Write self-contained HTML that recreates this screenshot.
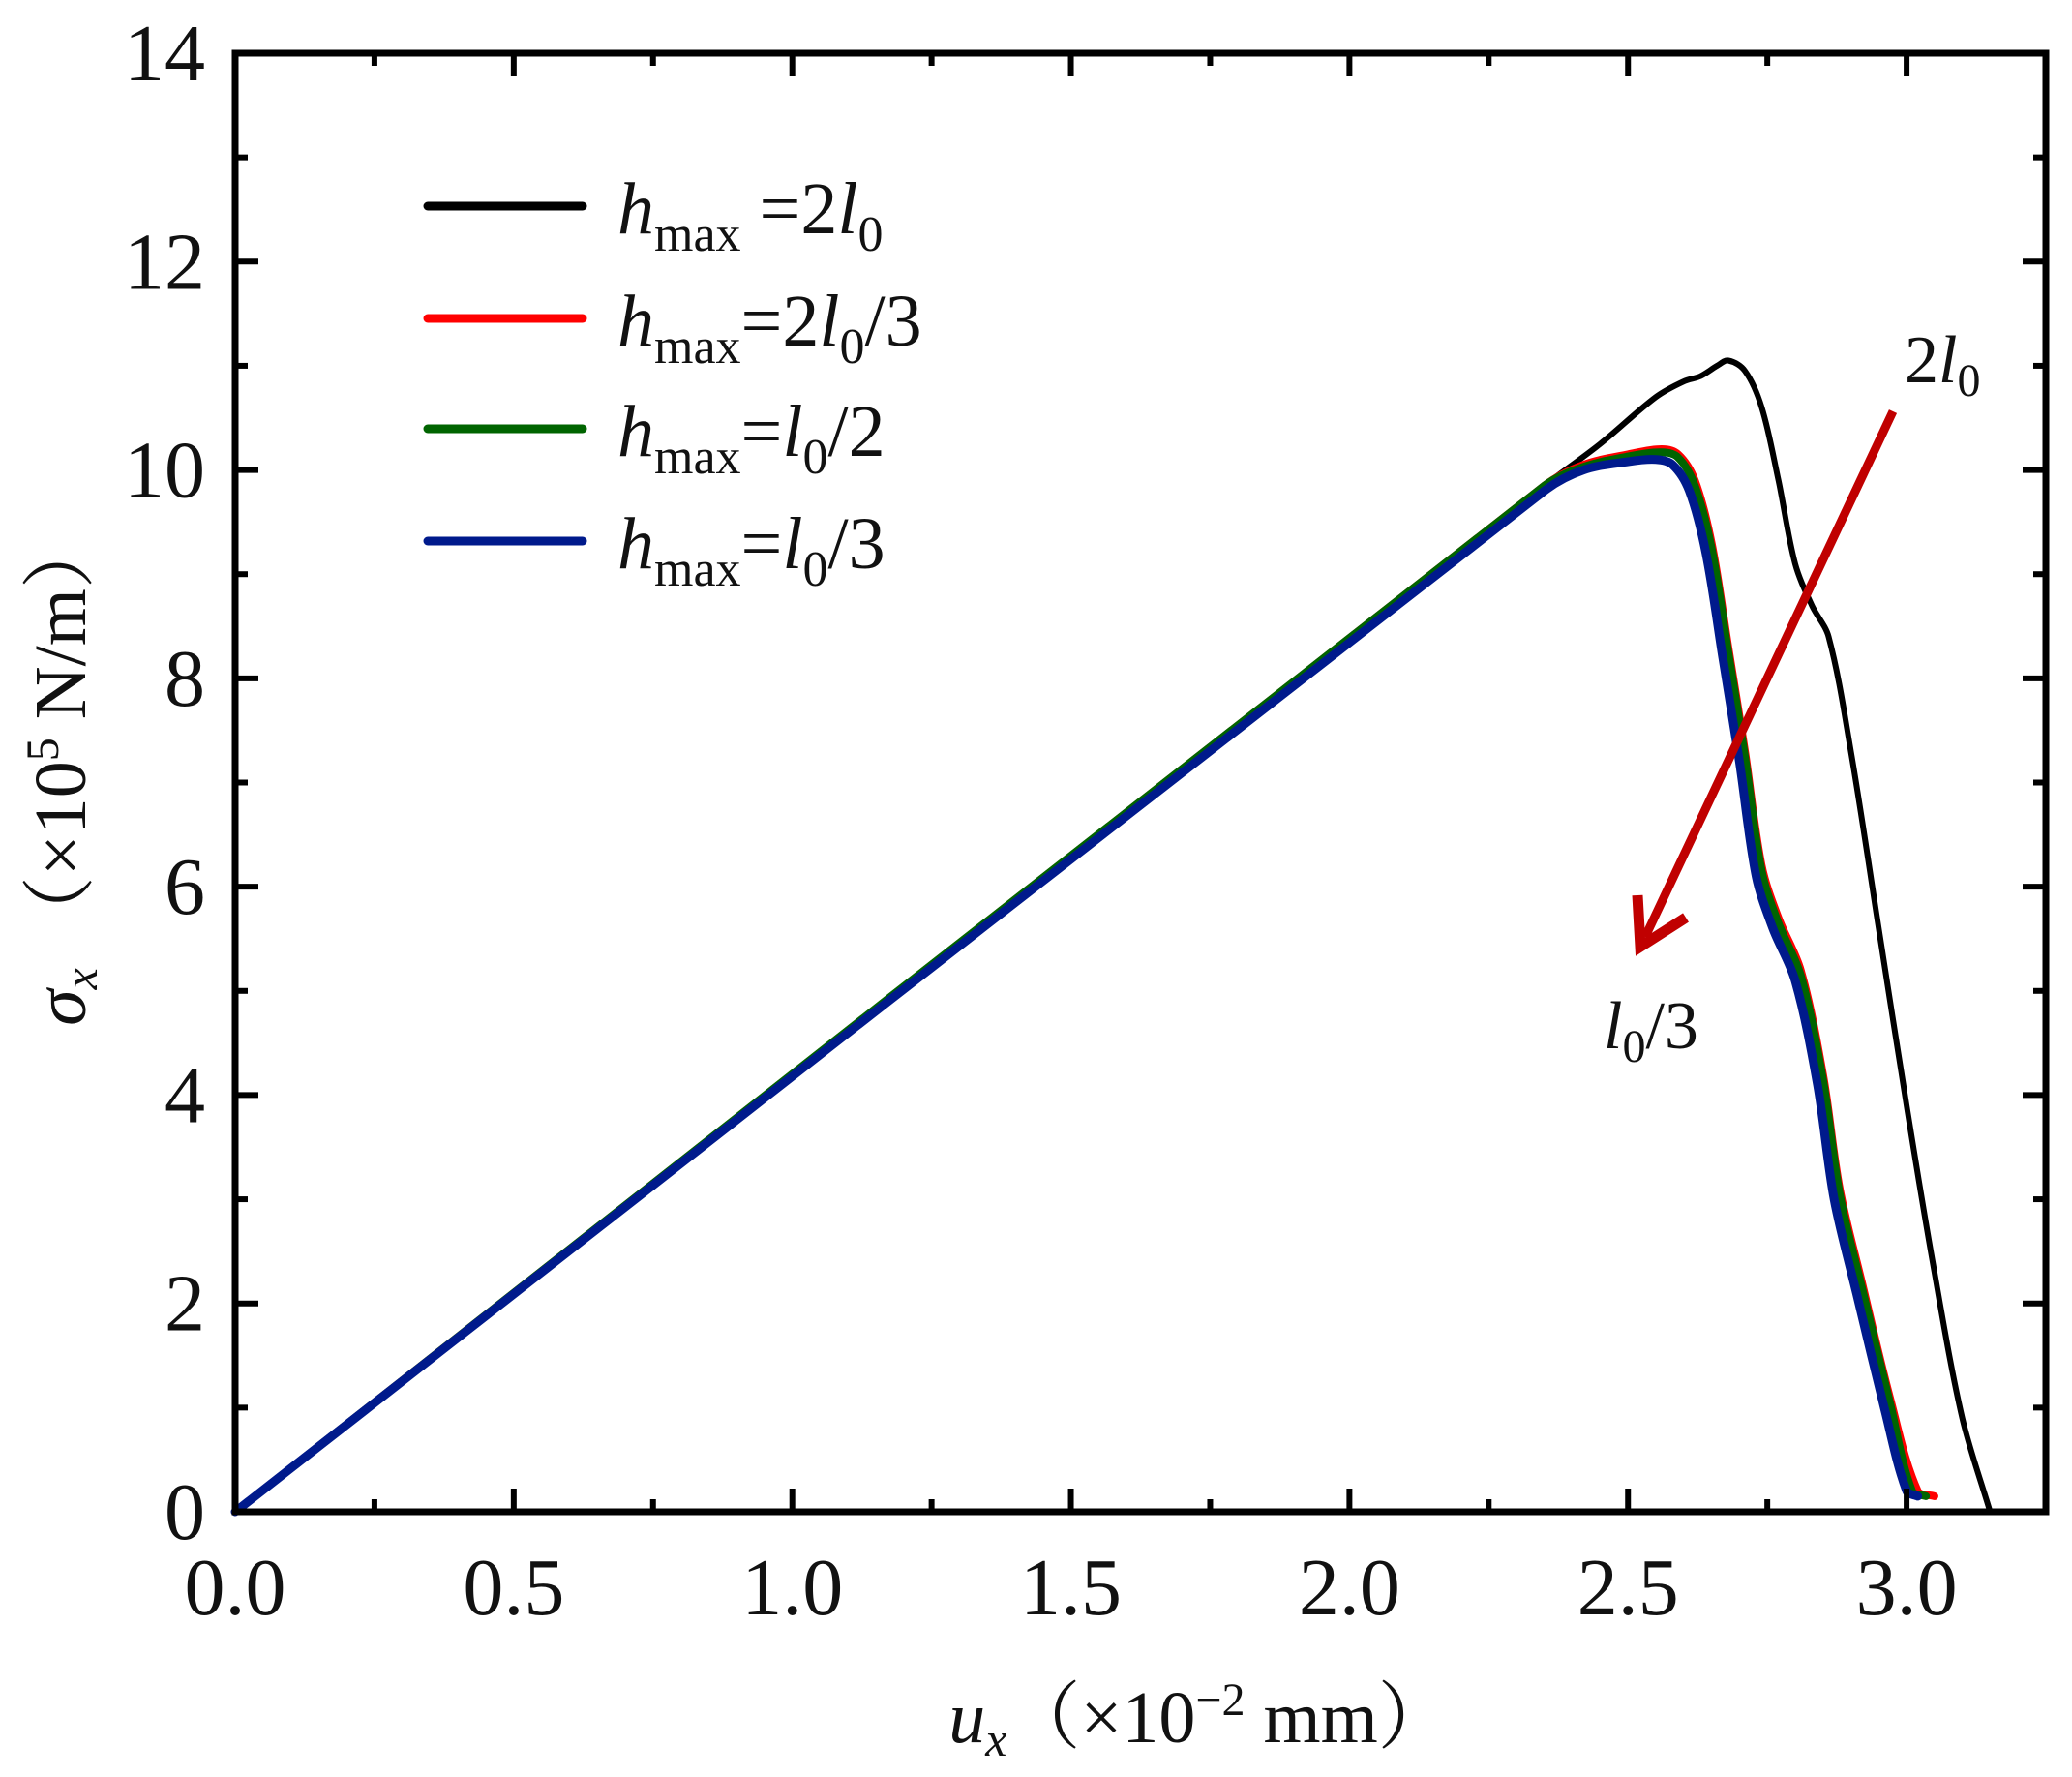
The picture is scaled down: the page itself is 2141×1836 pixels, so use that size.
<!DOCTYPE html>
<html><head><meta charset="utf-8"><style>
html,body{margin:0;padding:0;background:#fff}
svg{display:block}
text{font-family:"Liberation Serif","Noto Serif CJK SC",serif;fill:#111}
</style></head><body>
<svg id="chart" width="2141" height="1836" viewBox="0 0 2141 1836" xmlns="http://www.w3.org/2000/svg">
<g id="plot"></g>
</svg>
<script>
const xTicks=[0,0.5,1.0,1.5,2.0,2.5,3.0];
const xTickLabels=["0.0","0.5","1.0","1.5","2.0","2.5","3.0"];
const yTicks=[0,2,4,6,8,10,12,14];
const yTickLabels=["0","2","4","6","8","10","12","14"];
const seriesNames=["h2l0","h2l0_3","hl0_2","hl0_3"];
const seriesColors=["#000000","#ff0000","#006400","#001a8c"];
const s1x=[0,2.35,2.45,2.55,2.6,2.63,2.66,2.68,2.71,2.74,2.77,2.8,2.83,2.86,2.9,2.95,3.0,3.05,3.1,3.15];
const s1y=[0,9.85,10.25,10.7,10.85,10.9,11.0,11.05,10.95,10.6,9.9,9.1,8.7,8.4,7.3,5.6,3.9,2.3,0.9,0];
const s2x=[0,2.35,2.42,2.5,2.56,2.59,2.62,2.65,2.68,2.71,2.74,2.77,2.81,2.85,2.88,2.92,2.97,3.02,3.05];
const s2y=[0,9.85,10.05,10.15,10.2,10.15,9.9,9.3,8.3,7.3,6.2,5.7,5.2,4.2,3.1,2.2,1.1,0.2,0.15];
const s3x=[0,2.35,2.42,2.5,2.56,2.59,2.62,2.65,2.68,2.71,2.74,2.77,2.81,2.85,2.88,2.92,2.97,3.01,3.035];
const s3y=[0,9.85,10.03,10.13,10.17,10.12,9.85,9.25,8.25,7.25,6.15,5.65,5.15,4.15,3.05,2.15,1.05,0.2,0.15];
const s4x=[0,2.35,2.42,2.5,2.55,2.58,2.61,2.64,2.67,2.7,2.73,2.76,2.8,2.84,2.87,2.91,2.96,3.0,3.02];
const s4y=[0,9.8,10.0,10.08,10.1,10.05,9.8,9.2,8.2,7.2,6.1,5.6,5.1,4.1,3.0,2.1,1.0,0.2,0.15];
const legendLabels=[["h","max"," =2","l","0",""],["h","max","=2","l","0","/3"],["h","max","=","l","0","/2"],["h","max","=","l","0","/3"]];

const L=243,R=2114,T=55,B=1562,XMAX=3.25,YMAX=14;
const sx=v=>L+(v/XMAX)*(R-L);
const sy=v=>B-(v/YMAX)*(B-T);
const NS="http://www.w3.org/2000/svg";
const g=document.getElementById('plot');
function mk(tag,attrs,parent){const e=document.createElementNS(NS,tag);for(const k in attrs)e.setAttribute(k,attrs[k]);(parent||g).appendChild(e);return e;}
function smooth(pts){
  let d='M'+pts[0][0].toFixed(1)+','+pts[0][1].toFixed(1);
  const dist=(a,b)=>Math.hypot(b[0]-a[0],b[1]-a[1]);
  for(let i=0;i<pts.length-1;i++){
    const p0=pts[Math.max(0,i-1)],p1=pts[i],p2=pts[i+1],p3=pts[Math.min(pts.length-1,i+2)];
    const seg=dist(p1,p2)*0.33;
    let u=[p2[0]-p0[0],p2[1]-p0[1]],lu=Math.hypot(u[0],u[1])||1;
    let w=[p3[0]-p1[0],p3[1]-p1[1]],lw=Math.hypot(w[0],w[1])||1;
    if(i==0){u=[p2[0]-p1[0],p2[1]-p1[1]];lu=Math.hypot(u[0],u[1])||1;}
    const c1=[p1[0]+u[0]/lu*seg,p1[1]+u[1]/lu*seg];
    const c2=[p2[0]-w[0]/lw*seg,p2[1]-w[1]/lw*seg];
    d+=' C'+c1[0].toFixed(1)+','+c1[1].toFixed(1)+' '+c2[0].toFixed(1)+','+c2[1].toFixed(1)+' '+p2[0].toFixed(1)+','+p2[1].toFixed(1);
  }
  return d;
}
const allX=[s1x,s2x,s3x,s4x],allY=[s1y,s2y,s3y,s4y];
[0,1,2,3].forEach(i=>{
  const pts=allX[i].map((x,j)=>[sx(x),sy(allY[i][j])]);
  const p=mk('path',{d:smooth(pts),fill:'none',stroke:seriesColors[i],'stroke-width':i==0?6:i==3?9:8,'stroke-linejoin':'round','stroke-linecap':'round'});
  
  
});

const fr=mk('rect',{x:L,y:T,width:R-L,height:B-T,fill:'none',stroke:'#000','stroke-width':7});



for(let v=0;v<=XMAX+1e-9;v+=0.25){
  const major=Math.abs(v*2-Math.round(v*2))<1e-6;const len=major?24:13;const x=sx(v);
  const t1=mk('line',{x1:x,x2:x,y1:B,y2:B-len,stroke:'#000','stroke-width':6});
  
  
  const t2=mk('line',{x1:x,x2:x,y1:T,y2:T+len,stroke:'#000','stroke-width':6});
  
  
}
xTicks.forEach((v,i)=>{
  const t=mk('text',{x:sx(v),y:1668,'font-size':84,'text-anchor':'middle'});t.textContent=xTickLabels[i];
  
  
});
for(let v=0;v<=YMAX;v+=1){
  const major=v%2==0;const len=major?24:13;const y=sy(v);
  const t1=mk('line',{x1:L,x2:L+len,y1:y,y2:y,stroke:'#000','stroke-width':6});
  
  
  const t2=mk('line',{x1:R,x2:R-len,y1:y,y2:y,stroke:'#000','stroke-width':6});
  
  
}
yTicks.forEach((v,i)=>{
  const t=mk('text',{x:212,y:sy(v)+28,'font-size':84,'text-anchor':'end'});t.textContent=yTickLabels[i];
  
  
});

const legY=[213,329,443,559];
legendLabels.forEach((lab,i)=>{
  const ln=mk('line',{x1:442,x2:602,y1:legY[i],y2:legY[i],stroke:seriesColors[i],'stroke-width':9,'stroke-linecap':'round'});
  
  
  const t=mk('text',{x:638,y:legY[i]+28,'font-size':76});
  
  
  const a=mk('tspan',{'font-style':'italic'},t);a.textContent=lab[0];
  const b=mk('tspan',{'font-size':52,dy:18},t);b.textContent=lab[1];
  const c=mk('tspan',{dy:-18},t);c.textContent=lab[2];
  const d=mk('tspan',{'font-style':'italic'},t);d.textContent=lab[3];
  const e=mk('tspan',{'font-size':52,dy:18},t);e.textContent=lab[4];
  if(lab[5]){const f=mk('tspan',{dy:-18},t);f.textContent=lab[5];}
});
</script>
<svg style="position:absolute;left:0;top:0" width="2141" height="1836">
  <line x1="1956" y1="425" x2="1700" y2="968" stroke="#c00000" stroke-width="9"/>
  <polyline points="1692,925 1695,978 1742,948" fill="none" stroke="#c00000" stroke-width="11" stroke-linejoin="miter"/>
  <text x="1968" y="395" font-size="70" style="font-family:'Liberation Serif',serif"><tspan>2</tspan><tspan font-style="italic">l</tspan><tspan font-size="48" dy="14">0</tspan></text>
  <text x="1657" y="1083" font-size="70" style="font-family:'Liberation Serif',serif"><tspan font-style="italic">l</tspan><tspan font-size="48" dy="14">0</tspan><tspan dy="-14">/3</tspan></text>
  <text transform="translate(88,796) rotate(-90)" text-anchor="middle" font-size="76" style="font-family:'Liberation Serif','Noto Serif CJK SC',serif"><tspan font-style="italic">σ</tspan><tspan font-size="50" dy="12" font-style="italic">x</tspan><tspan dy="-12">  （×10</tspan><tspan font-size="48" dy="-28">5</tspan><tspan dy="28"> N/m）</tspan></text>
  <text x="1240" y="1800" text-anchor="middle" font-size="76" style="font-family:'Liberation Serif','Noto Serif CJK SC',serif"><tspan font-style="italic">u</tspan><tspan font-size="50" dy="14" font-style="italic">x</tspan><tspan dy="-14">（×10</tspan><tspan font-size="48" dy="-28">−2</tspan><tspan dy="28"> mm）</tspan></text>
</svg>
</body></html>
